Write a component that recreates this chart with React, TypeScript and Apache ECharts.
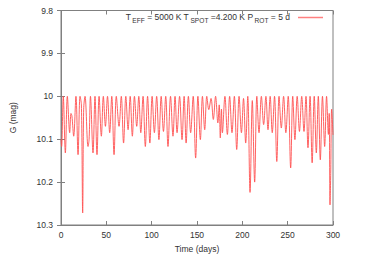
import React, { useEffect, useRef } from "react";
import * as echarts from "echarts";

const xTicks = [0, 50, 100, 150, 200, 250, 300];
const yTicks = [9.8, 9.9, 10, 10.1, 10.2, 10.3];

// Light curve points: [time (days), G (mag)]
const lightCurve: [number, number][] = [
  [0, 10.1], [0.7, 10.117], [2.5, 10.0], [4.8, 10.132], [7, 10.0], [9.6, 10.085], [11, 10.04], [12, 10.045],
  [14, 10.093], [16.5, 10.0], [18.8, 10.136], [21, 10.0], [22.5, 10.02], [23.9, 10.272], [25, 10.03], [26.5, 10.0],
  [29.8, 10.117], [31, 10.1], [32.5, 10.0], [35.3, 10.132], [37.5, 10.0], [39.7, 10.136], [42, 10.0], [44.5, 10.093],
  [46.7, 10.0], [49, 10.07], [51.3, 10.0], [53.7, 10.085], [56, 10.0], [58.5, 10.136], [61, 10.0], [64, 10.07],
  [66.5, 10.0], [69, 10.109], [71.5, 10.0], [74, 10.078], [76.3, 10.0], [78.7, 10.093], [81, 10.0], [83.5, 10.07],
  [85.8, 10.0], [88, 10.085], [90.5, 10.0], [93, 10.117], [95.5, 10.0], [98, 10.109], [100.5, 10.0], [103, 10.085],
  [105.5, 10.0], [108, 10.101], [110.5, 10.0], [113, 10.082], [115.5, 10.0], [118, 10.117], [120.8, 10.0],
  [123.5, 10.093], [125.8, 10.0], [128, 10.085], [130.8, 10.0], [133.5, 10.101], [135.8, 10.0], [138, 10.109],
  [140.5, 10.0], [143, 10.085], [145.8, 10.0], [148.5, 10.144], [151, 10.0], [153.7, 10.101], [156, 10.0],
  [158.5, 10.078], [160.8, 10.0], [163, 10.031], [165.5, 10.005], [168, 10.054], [170.5, 10.0], [173, 10.062],
  [174.5, 10.02], [175.7, 10.097], [177, 10.03], [178, 10.085], [180.8, 10.0], [183.5, 10.089], [186, 10.0],
  [188.6, 10.085], [191.2, 10.0], [193.8, 10.124], [196.4, 10.0], [199, 10.085], [201.3, 10.005], [203.7, 10.109],
  [206, 10.0], [208.5, 10.224], [211, 10.01], [213.6, 10.2], [216, 10.0], [218.4, 10.085], [221, 10.0],
  [223.5, 10.066], [226, 10.0], [228.3, 10.078], [230.7, 10.0], [233, 10.085], [235.5, 10.0], [238, 10.152],
  [240.5, 10.0], [243, 10.074], [245.5, 10.0], [248, 10.085], [250.6, 10.0], [253.3, 10.167], [255.6, 10.0],
  [258, 10.101], [260.5, 10.0], [263, 10.082], [265.5, 10.0], [268, 10.082], [270.2, 10.0], [272.4, 10.12],
  [274.7, 10.0], [277, 10.155], [279.3, 10.0], [281.6, 10.132], [283.8, 10.0], [286, 10.148], [288.4, 10.0],
  [290.8, 10.117], [292.9, 10.0], [294.9, 10.089], [295.8, 10.04], [296.7, 10.253], [297.5, 10.18], [298.5, 10.03],
  [300, 10.09],
];

const FONT = "'Liberation Sans', Arial, sans-serif";
const TEXT = "#333";
const FRAME = "#808080";

export default function App() {
  const ref = useRef<HTMLDivElement>(null);
  useEffect(() => {
    if (!ref.current) return;
    const chart = echarts.init(ref.current, undefined, { renderer: "svg" });
    const fmtY = (v: number) => String(+v.toFixed(1));
    const tickStyle = { show: true, inside: true, length: 4, lineStyle: { color: FRAME } };
    chart.setOption({
      animation: false,
      backgroundColor: "#fff",
      textStyle: { fontFamily: FONT },
      grid: { left: 61, right: 33, top: 10.5, bottom: 33, show: true, borderColor: FRAME, borderWidth: 1 },
      xAxis: [
        {
          type: "value", min: xTicks[0], max: xTicks[xTicks.length - 1], interval: 50,
          axisLine: { show: true, lineStyle: { color: FRAME } },
          axisTick: tickStyle, splitLine: { show: false },
          axisLabel: { color: TEXT, fontSize: 8.5, fontFamily: FONT, margin: 5 },
          name: "Time (days)", nameLocation: "middle", nameGap: 19,
          nameTextStyle: { color: TEXT, fontSize: 8.5, fontFamily: FONT },
        },
        {
          type: "value", position: "top", min: xTicks[0], max: xTicks[xTicks.length - 1], interval: 50,
          axisLine: { show: false }, axisTick: tickStyle, axisLabel: { show: false }, splitLine: { show: false },
        },
      ],
      yAxis: [
        {
          type: "value", inverse: true, min: yTicks[0], max: yTicks[yTicks.length - 1], interval: 0.1,
          axisLine: { show: true, lineStyle: { color: FRAME } },
          axisTick: tickStyle, splitLine: { show: false },
          axisLabel: { color: TEXT, fontSize: 8.5, fontFamily: FONT, margin: 8, formatter: fmtY },
          name: "G (mag)", nameLocation: "middle", nameGap: 44, nameRotate: 90,
          nameTextStyle: { color: TEXT, fontSize: 8.5, fontFamily: FONT },
        },
        {
          type: "value", position: "right", inverse: true, min: yTicks[0], max: yTicks[yTicks.length - 1], interval: 0.1,
          axisLine: { show: false }, axisTick: tickStyle, axisLabel: { show: false }, splitLine: { show: false },
        },
      ],
      series: [
        {
          type: "line", name: "light curve", data: lightCurve, xAxisIndex: 0, yAxisIndex: 0,
          showSymbol: false, symbol: "none", smooth: 0.35,
          lineStyle: { color: "#ff5050", width: 0.9 },
        },
      ],
      graphic: [
        {
          type: "text", right: 76, top: 12,
          style: {
            text: "{m|T}{s|EFF}{m| = 5000 K T}{s|SPOT}{m| =4.200 K P}{s|ROT}{m| = 5 d}",
            fill: TEXT, fontFamily: FONT,
            rich: {
              m: { fontSize: 8.5, lineHeight: 11, verticalAlign: "top", fill: TEXT, fontFamily: FONT },
              s: { fontSize: 6.6, lineHeight: 8, verticalAlign: "top", padding: [4.5, 0, 0, 1.5], fill: TEXT, fontFamily: FONT },
            },
          },
        },
        { type: "line", shape: { x1: 298, y1: 17.5, x2: 323, y2: 17.5 }, style: { stroke: "#ff8080", lineWidth: 1.5 } },
      ],
    });
    return () => chart.dispose();
  }, []);
  return <div ref={ref} style={{ position: "fixed", left: 0, top: 0, width: 366, height: 258 }} />;
}
